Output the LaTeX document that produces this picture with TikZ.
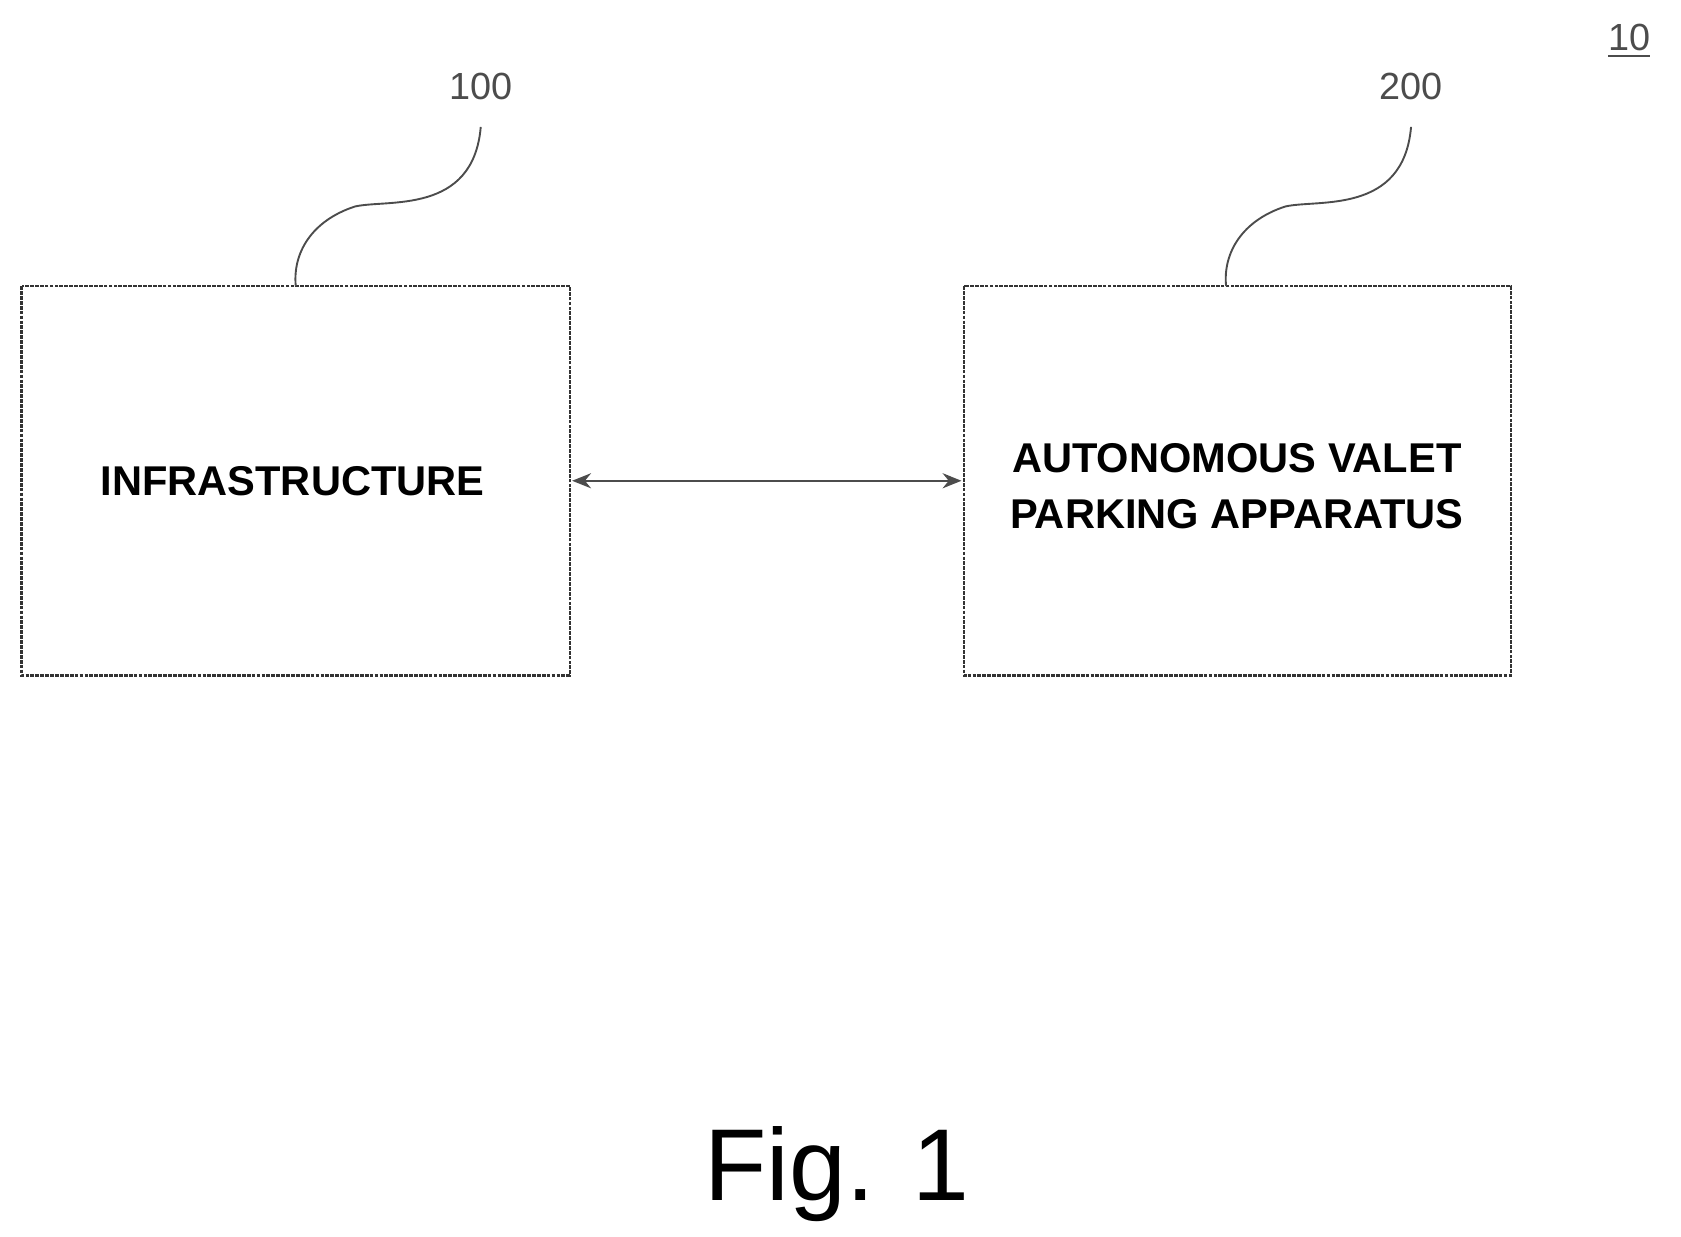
\documentclass[tikz,border=0pt]{standalone}
\usepackage{fontspec}
\setmainfont{Liberation Sans}
\usetikzlibrary{arrows.meta}
\begin{document}
\begin{tikzpicture}[x=0.01cm,y=-0.01cm,
  box/.style={draw=black!80,line width=0.6pt,dash pattern=on 1pt off 0.3pt},
  lbl/.style={font=\fontsize{11}{13}\selectfont\bfseries,align=center},
  ref/.style={font=\fontsize{10}{12}\selectfont,text=black!70},
  lead/.style={draw=black!70,line width=0.5pt}]
\useasboundingbox (0,0) rectangle (1563,1150);
\draw[box] (20,266) rectangle (530,628);
\draw[box] (896,266) rectangle (1405,628);
\node[lbl] (infra) at (272,447) {INFRASTRUCTURE};
\node[lbl] (avp) at (1150,452) {AUTONOMOUS VALET\\[2pt]PARKING APPARATUS};
\coordinate (a1) at (532,447);
\coordinate (a2) at (894,447);
\draw[lead,{Stealth[length=5pt,width=4pt]}-{Stealth[length=5pt,width=4pt]}] (a1) -- (a2);
\node[ref] (r100) at (447,80) {100};
\node[ref] (r200) at (1312,80) {200};
\node[ref] (r10) at (1515,38) {\underline{10}};
\coordinate (b1) at (275,266);
\coordinate (b2) at (1140,266);
\draw[lead] (447,118) .. controls (440,200) and (360,185) .. (330,192) .. controls (290,205) and (272,235) .. (b1);
\draw[lead] (1312,118) .. controls (1305,200) and (1225,185) .. (1195,192) .. controls (1155,205) and (1137,235) .. (b2);
\node[font=\fontsize{27}{30}\selectfont] (fig) at (778,1092) {Fig. 1};
\end{tikzpicture}
\end{document}
